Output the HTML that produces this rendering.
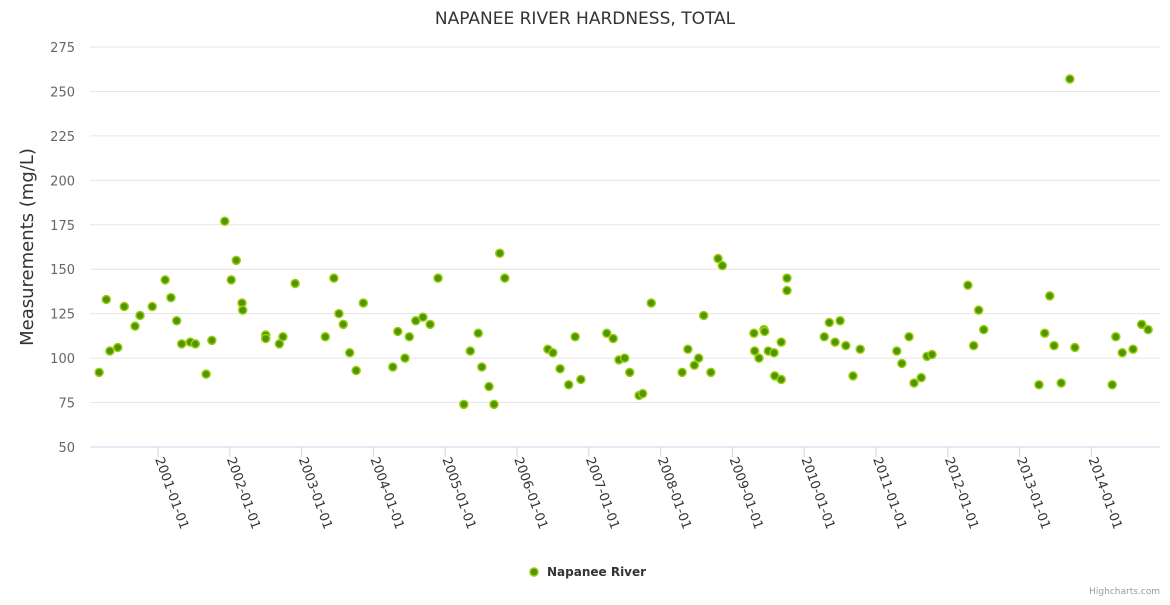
<!DOCTYPE html>
<html><head><meta charset="utf-8"><style>
body{margin:0;background:#fff}
svg text{font-family:"DejaVu Sans","Liberation Sans",sans-serif}
</style></head><body>
<svg id="chart" width="1170" height="600">
<text x="585" y="24" text-anchor="middle" font-size="17" fill="#333">NAPANEE RIVER HARDNESS, TOTAL</text>
<text transform="translate(33,247) rotate(-90)" text-anchor="middle" font-size="18" fill="#333">Measurements (mg/L)</text>
<g id="grid"></g><g id="xaxis"></g><g id="points"></g>
<g>
<circle cx="534" cy="572" r="4" fill="#4f9500" stroke="#9acd10" stroke-width="1.5"/>
<text x="547" y="576" font-size="12" font-weight="bold" fill="#333">Napanee River</text>
</g>
<text x="1160" y="594" text-anchor="end" font-size="9" fill="#999">Highcharts.com</text>
</svg>
<script>
const yTicks=[50,75,100,125,150,175,200,225,250,275];
const xTickYears=[2001,2002,2003,2004,2005,2006,2007,2008,2009,2010,2011,2012,2013,2014];
const dates=[2000.18,2000.28,2000.33,2000.44,2000.53,2000.68,2000.75,2000.92,2001.10,2001.18,2001.26,2001.33,2001.45,2001.52,2001.67,2001.75,2001.93,2002.02,2002.09,2002.17,2002.18,2002.50,2002.50,2002.69,2002.74,2002.91,2003.33,2003.45,2003.52,2003.58,2003.67,2003.76,2003.86,2004.27,2004.34,2004.44,2004.50,2004.59,2004.69,2004.79,2004.90,2005.26,2005.35,2005.46,2005.51,2005.61,2005.68,2005.76,2005.83,2006.43,2006.50,2006.60,2006.72,2006.81,2006.89,2007.25,2007.34,2007.42,2007.50,2007.57,2007.70,2007.75,2007.87,2008.30,2008.38,2008.47,2008.53,2008.60,2008.70,2008.80,2008.86,2009.30,2009.31,2009.37,2009.44,2009.45,2009.50,2009.59,2009.58,2009.68,2009.68,2009.76,2009.76,2010.28,2010.35,2010.43,2010.50,2010.58,2010.68,2010.78,2011.29,2011.36,2011.46,2011.53,2011.63,2011.71,2011.78,2012.28,2012.36,2012.43,2012.50,2013.27,2013.35,2013.42,2013.48,2013.58,2013.70,2013.77,2014.29,2014.34,2014.43,2014.58,2014.70,2014.79];
const values=[92,133,104,106,129,118,124,129,144,134,121,108,109,108,91,110,177,144,155,131,127,113,111,108,112,142,112,145,125,119,103,93,131,95,115,100,112,121,123,119,145,74,104,114,95,84,74,159,145,105,103,94,85,112,88,114,111,99,100,92,79,80,131,92,105,96,100,124,92,156,152,114,104,100,116,115,104,90,103,88,109,145,138,112,120,109,121,107,90,105,104,97,112,86,89,101,102,141,107,127,116,85,114,135,107,86,257,106,85,112,103,105,119,116];
const NS='http://www.w3.org/2000/svg';
const X0=90,X1=1160,YT=47,YB=447;
function xs(yr){return 158+(yr-2001)*71.8;}
function ys(v){return YB-(v-50)/225*(YB-YT);}
function mk(t,a,p){const e=document.createElementNS(NS,t);for(const k in a)e.setAttribute(k,a[k]);p.appendChild(e);return e;}
const grid=document.getElementById('grid');
yTicks.forEach(v=>{
  const l=mk('line',{x1:X0,x2:X1,y1:ys(v),y2:ys(v),stroke:v===50?'#ccd6eb':'#e6e6e6','stroke-width':1},grid);
  
  
  const t=mk('text',{x:75,y:ys(v)+5,'text-anchor':'end','font-size':13,fill:'#666'},grid);
  t.textContent=v;
  
  
});
const xa=document.getElementById('xaxis');
xTickYears.forEach(yr=>{
  const x=xs(yr);
  const l=mk('line',{x1:x,x2:x,y1:YB,y2:YB+10,stroke:'#ccd6eb'},xa);
  
  
  const t=mk('text',{transform:`translate(${x-3},${YB+12}) rotate(70)`,'font-size':13,fill:'#333'},xa);
  t.textContent=yr+'-01-01';
  
  
});
const pg=document.getElementById('points');
dates.forEach((d,i)=>{
  const c=mk('circle',{cx:xs(d),cy:ys(values[i]),r:4,fill:'#4f9500',stroke:'#9acd10','stroke-width':1.5},pg);
  
  
});
</script>
</body></html>
